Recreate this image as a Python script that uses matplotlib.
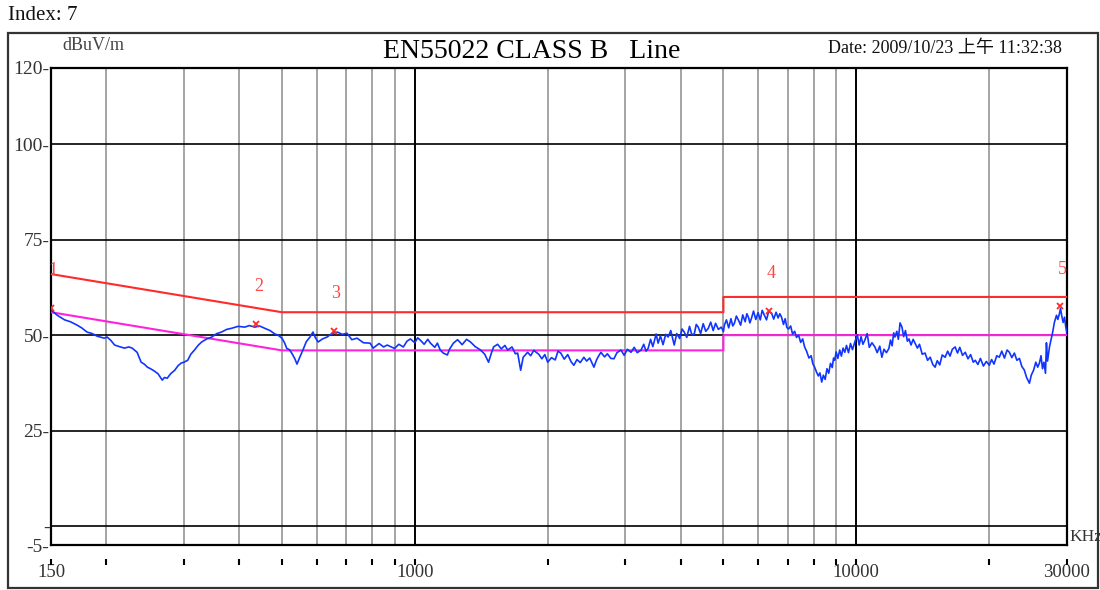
import matplotlib
matplotlib.use("Agg")
import matplotlib.pyplot as plt
from matplotlib.patches import Rectangle
import matplotlib.transforms as mtransforms

plt.rcParams['font.family'] = ['Liberation Serif', 'Noto Sans CJK TC', 'DejaVu Sans']

# ---------------- data ----------------
freq_khz = [150, 155, 161, 166, 172, 176, 181, 186, 191, 198, 201, 205, 209, 214, 220, 225, 229,
            235, 240, 244, 248, 252, 257, 262, 268, 271, 275, 280, 286, 291, 296, 300, 306, 311,
            317, 323, 329, 338, 347, 356, 365, 375, 385, 398, 412, 422, 434, 445, 457, 470, 482,
            490, 500, 507, 513, 520, 527, 535, 541, 548, 558, 568, 579, 588, 595, 604, 618, 633,
            643, 653, 668, 685, 702,
            720, 740, 765, 792, 805, 830, 850, 866, 900, 920, 942, 960, 977, 1000, 1015, 1029,
            1050, 1070, 1085, 1110, 1125, 1142, 1160, 1185, 1200, 1223, 1250, 1280, 1310, 1337,
            1370, 1409, 1440, 1469, 1490, 1508, 1540, 1570, 1600, 1623, 1660, 1690, 1710, 1737,
            1760, 1801, 1830, 1860, 1908, 1940, 1970, 2000, 2040, 2080, 2110, 2141, 2180, 2220,
            2260, 2292, 2330, 2370, 2415, 2450, 2490, 2545, 2580, 2610, 2640, 2690, 2730, 2780,
            2825, 2870, 2931, 2980, 3030, 3088, 3140, 3190, 3255, 3300, 3340, 3376, 3420, 3460,
            3483, 3520, 3557, 3600, 3650, 3700, 3748, 3800, 3868, 3920, 3980, 4030, 4076, 4130,
            4190, 4240, 4295, 4340, 4385, 4440, 4500, 4560, 4621, 4680, 4740, 4800, 4870, 4946,
            5000, 5025, 5080, 5140, 5200, 5250, 5294, 5350, 5409, 5470, 5530, 5600, 5650, 5696,
            5740, 5787, 5850, 5920, 5990, 6060, 6120, 6194, 6260, 6330, 6425, 6500, 6580, 6650,
            6710, 6771, 6840, 6900, 6960, 7024, 7100, 7170, 7250, 7320, 7401, 7480, 7560, 7636,
            7720, 7810, 7900, 7970, 8046, 8120, 8200, 8270, 8350, 8420, 8500, 8580, 8660, 8740,
            8820, 8880, 8935, 9000, 9080, 9170, 9250, 9330, 9417, 9500, 9600, 9700, 9800, 9924,
            10050, 10150, 10250, 10350, 10455, 10580, 10700, 10850, 11015, 11150, 11300, 11425,
            11550, 11700, 11851, 11950, 12050, 12150, 12230, 12350, 12450, 12560, 12687, 12800,
            12920, 13050, 13162, 13300, 13450, 13579, 13750, 13900, 14100, 14310, 14500, 14700,
            14900, 15080, 15250, 15450, 15650, 15890, 16100, 16300, 16500, 16742, 16950, 17150,
            17400, 17649, 17900, 18150, 18400, 18594, 18850, 19100, 19400, 19700, 20003, 20250,
            20500, 20800, 21074, 21350, 21650, 21950, 22214, 22500, 22800, 23100, 23412, 23700,
            24000, 24300, 24663, 24900, 25200, 25500, 25750, 25986, 26200, 26400, 26600, 26816,
            26950, 27100, 27400, 27810, 28100, 28400, 28600, 28852, 29000, 29200, 29400, 29619,
            29800, 30000]
level_dbuv = [56.6, 55.2, 54.0, 53.5, 52.6, 51.9, 50.8, 50.4, 49.7, 49.2, 49.5, 48.6, 47.4,
              47.0, 46.6, 46.9, 46.6, 45.5, 42.9, 42.4, 41.6, 41.2, 40.6, 39.9, 38.2, 38.9,
              38.7, 39.9, 40.8, 42.0, 42.7, 42.9, 43.4, 45.0, 46.1, 47.3, 48.2, 49.0, 49.5,
              50.4, 50.8, 51.5, 51.8, 52.3, 52.1, 52.5, 52.1, 52.4, 51.8, 51.2, 50.3, 50.0,
              49.2, 48.0, 46.5, 46.2, 45.2, 43.8, 42.4, 44.0, 46.1, 48.3, 49.5, 50.8, 49.4,
              48.2, 49.0, 49.5, 50.1, 50.5, 50.8, 50.2, 50.5,
              48.8, 49.2, 48.0, 47.9, 46.6, 47.8, 46.9, 47.4, 46.5, 47.6, 46.9, 48.4, 49.0,
              48.0, 49.3, 48.7, 47.6, 48.9, 47.9, 46.8, 47.9, 46.1, 45.3, 44.8, 46.4, 47.9,
              48.8, 47.5, 48.9, 48.2, 47.0, 46.1, 45.0, 42.9, 45.2, 46.9, 47.6, 46.4, 47.3,
              46.1, 46.9, 45.1, 45.3, 40.8, 44.2, 45.5, 44.6, 46.0, 45.0, 43.8, 44.9, 42.9,
              44.1, 43.5, 45.8, 45.3, 43.7, 44.9, 43.0, 42.1, 43.6, 42.8, 44.2, 43.2, 44.0,
              41.6, 43.5, 44.6, 45.5, 44.3, 45.1, 43.9, 43.8, 45.4, 46.1, 44.7, 46.3, 45.5,
              46.8, 45.4, 46.1, 47.6, 45.8, 46.5, 48.9, 47.0, 48.2, 50.3, 47.9, 49.8, 47.5,
              50.2, 49.5, 51.2, 47.4, 50.4, 49.1, 51.6, 50.8, 49.4, 52.3, 50.1, 50.3, 52.8,
              52.1, 50.4, 53.0, 51.0, 51.8, 53.4, 51.2, 53.1, 51.5, 52.1, 50.9, 52.6, 54.0,
              51.9, 54.3, 52.4, 53.1, 55.0, 53.9, 52.6, 55.3, 53.5, 55.6, 54.7, 53.2, 54.4,
              56.3, 54.1, 55.9, 54.0, 56.5, 55.2, 54.0, 56.2, 55.8, 54.2, 56.0, 54.5, 55.6,
              54.7, 52.8, 54.3, 52.0, 51.6, 52.4, 50.3, 51.0, 49.4, 50.0, 48.1, 49.0, 46.9,
              45.7, 44.0, 44.6, 42.5, 41.6, 40.4, 39.3, 40.1, 37.7, 39.5, 38.4, 41.2, 40.0,
              42.6, 41.5, 44.0, 43.4, 45.6, 43.9, 46.1, 44.5, 46.6, 45.5, 47.3, 45.4, 47.8,
              46.2, 48.2, 50.1, 47.4, 49.6, 47.6, 48.7, 50.4, 46.8, 48.0, 46.9, 45.4, 47.1,
              44.2, 46.3, 45.4, 46.5, 48.7, 47.2, 50.6, 49.5, 51.0, 48.9, 53.2, 52.1, 49.6,
              51.2, 48.4, 49.0, 47.4, 48.9, 47.9, 46.6, 47.6, 45.0, 45.3, 43.4, 44.2, 42.3,
              41.6, 43.3, 42.2, 44.8, 44.2, 45.8, 44.5, 46.3, 46.9, 45.3, 46.8, 44.7, 45.5,
              43.8, 44.9, 42.9, 43.4, 42.3, 43.9, 41.9, 43.1, 42.1, 43.6, 42.4, 44.6, 44.2,
              45.8, 44.0, 46.1, 45.5, 44.1, 45.3, 43.4, 43.9, 41.8, 40.9, 38.9, 37.4, 39.5,
              40.8, 42.9, 41.6, 42.7, 44.6, 41.2, 42.9, 40.0, 48.0, 43.2, 47.1, 50.5, 53.4,
              55.2, 54.1, 55.7, 57.0, 55.0, 53.3, 54.7, 52.2, 50.5]

qp_limit_f = [150, 500, 5000, 5000, 30000]
qp_limit_v = [66, 56, 56, 60, 60]
av_limit_f = [150, 500, 5000, 5000, 30000]
av_limit_v = [56, 46, 46, 50, 50]

marker_ids = ['1', '2', '3', '4', '5']
marker_f = [150, 438, 656, 6330, 28980]
marker_v = [57.2, 52.9, 51.0, 56.2, 57.5]

y_ticks = [-5, 0, 25, 50, 75, 100, 120]
y_ticklabels = ['-5-', '-', '25-', '50-', '75-', '100-', '120-']
x_label_ticks = [150, 1000, 10000, 30000]
minor_grid = [200, 300, 400, 500, 600, 700, 800, 900,
              2000, 3000, 4000, 5000, 6000, 7000, 8000, 9000, 20000]
major_grid = [1000, 10000]
h_grid = [0, 25, 50, 75, 100]

# ---------------- figure ----------------
W, H = 1100, 590
fig = plt.figure(figsize=(11, 5.9), dpi=100)
ax = fig.add_axes([51 / W, 1 - 545 / H, (1067 - 51) / W, (545 - 68) / H])

ax.set_xscale('log')
ax.set_xlim(150, 30000)
ax.set_ylim(-5, 120)

for g in minor_grid:
    ax.axvline(g, color='#8c8c8c', lw=1.1, zorder=1)
for g in major_grid:
    ax.axvline(g, color='black', lw=1.4, zorder=1)
for g in h_grid:
    ax.axhline(g, color='black', lw=1.2, zorder=1)

ax.plot(qp_limit_f, qp_limit_v, color='#ff2a2a', lw=1.5, zorder=3)
ax.plot(av_limit_f, av_limit_v, color='#ff22dd', lw=1.5, zorder=3)
ax.plot(freq_khz, level_dbuv, color='#1035ff', lw=1.2, zorder=4)

ax.plot(marker_f, marker_v, linestyle='none', marker='x', color='#ff2a2a',
        markersize=5, mew=1.3, zorder=5)
for mid, mf, mv in zip(marker_ids, marker_f, marker_v):
    ax.annotate(mid, (mf, mv), xytext=(1.5, 27), textcoords='offset points',
                ha='center', va='center', color='#ff4444', fontsize=13, zorder=6)

for s in ax.spines.values():
    s.set_linewidth(1.6)
    s.set_color('black')

ax.set_yticks(y_ticks)
ax.set_yticklabels(y_ticklabels)
ax.tick_params(axis='y', length=0, pad=1, labelsize=14, labelcolor='#333333')

ax.set_xticks(x_label_ticks)
ax.set_xticklabels([str(t) for t in x_label_ticks])
ax.xaxis.set_minor_locator(matplotlib.ticker.NullLocator())
ax.tick_params(axis='x', length=0, pad=14, labelsize=13.5, labelcolor='#333333')

trans = mtransforms.blended_transform_factory(ax.transData, ax.transAxes)
for t in [150] + minor_grid + major_grid + [30000]:
    ax.plot([t, t], [-0.029, -0.041], transform=trans, color='black', lw=1.5,
            clip_on=False, solid_capstyle='butt')

fig.text(1069 / W, 1 - 537 / H, 'KHz', ha='left', va='center', fontsize=12.5, color='#333333')
fig.text(62 / W, 1 - 46 / H, 'dBuV/m', ha='left', va='center', fontsize=13, color='#444444')
fig.text(532 / W, 1 - 51 / H, 'EN55022 CLASS B   Line', ha='center', va='center',
         fontsize=20, color='black')
fig.text(1062 / W, 1 - 48 / H, 'Date: 2009/10/23 上午 11:32:38', ha='right', va='center',
         fontsize=13, color='#111111')
fig.text(8 / W, 1 - 15 / H, 'Index: 7', ha='left', va='center', fontsize=15, color='#111111')

fig.patches.append(Rectangle((8 / W, 1 - 588 / H), (1098 - 8) / W, (588 - 33) / H,
                             transform=fig.transFigure, fill=False, lw=1.6,
                             edgecolor='#333333'))

fig.savefig('out.png', dpi=100)
